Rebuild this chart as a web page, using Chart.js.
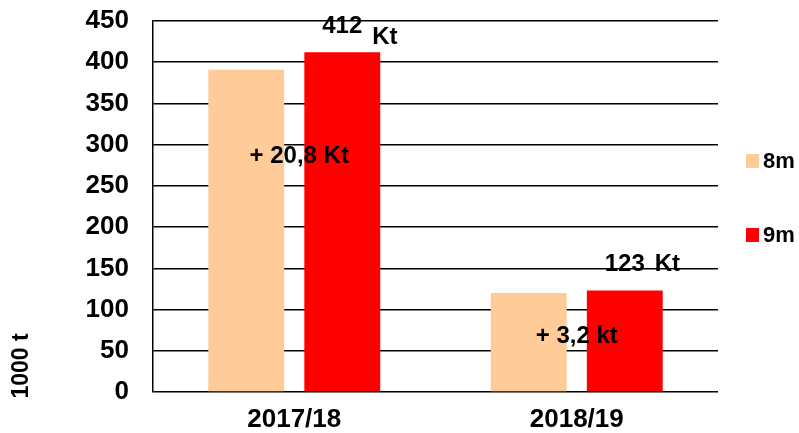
<!DOCTYPE html>
<html>
<head>
<meta charset="utf-8">
<script src="https://cdn.jsdelivr.net/npm/chart.js@4/dist/chart.umd.min.js"></script>
<style>
    html, body { margin: 0; padding: 0; background: #fff; }
    #wrap { width: 799px; height: 433px; }
</style>
</head>
<body>
<div id="wrap"><canvas id="chart" width="799" height="433"></canvas></div>
<script>
// Chart data
const categories = ['2017/18', '2018/19'];
const series8m = [391, 120];
const series9m = [412, 123];
const seriesNames = ['8m', '9m'];
const seriesColors = ['#FFCC99', '#FF0000'];
const totalLabels = ['412', '123'];
const totalUnit = 'Kt';
const deltaLabels = ['+ 20,8 Kt', '+ 3,2 kt'];
const deltaAnchors = [286, 68];
const yTicks = [0, 50, 100, 150, 200, 250, 300, 350, 400, 450];

const FONT = "'Liberation Sans', Arial, sans-serif";

// Draws value labels, deltas, legend and axis title
const annotations = {
    id: 'annotations',
    afterDatasetsDraw(chart) {
        const ctx = chart.ctx;
        const y = chart.scales.y;
        const x = chart.scales.x;
        const area = chart.chartArea;
        const meta9 = chart.getDatasetMeta(1);

        ctx.save();
        ctx.fillStyle = '#000';
        ctx.textBaseline = 'middle';

        // totals above the 9m bars
        ctx.font = 'bold 24px ' + FONT;
        meta9.data.forEach((bar, i) => {
            ctx.textAlign = 'center';
            ctx.fillText(totalLabels[i], bar.x, bar.y - 26);
            ctx.textAlign = 'left';
            ctx.fillText(totalUnit, bar.x + 30, bar.y - (i === 0 ? 15 : 26));
        });

        // differences between 8m and 9m
        ctx.textAlign = 'center';
        deltaLabels.forEach((txt, i) => {
            ctx.fillText(txt, x.getPixelForValue(i) + (i === 0 ? 5 : 0), y.getPixelForValue(deltaAnchors[i]));
        });

        // legend
        const legendY = [161, 235];
        ctx.font = 'bold 22px ' + FONT;
        ctx.textAlign = 'left';
        seriesNames.forEach((name, i) => {
            ctx.fillStyle = seriesColors[i];
            ctx.fillRect(area.right + 28, legendY[i] - 7, 13, 14);
            ctx.fillStyle = '#000';
            ctx.fillText(name, area.right + 45, legendY[i] + 1);
        });

        // y axis title
        ctx.font = 'bold 23px ' + FONT;
        ctx.translate(22, 366);
        ctx.rotate(-Math.PI / 2);
        ctx.textAlign = 'center';
        ctx.fillText('1000 t', 0, 0);
        ctx.restore();
    }
};

new Chart(document.getElementById('chart'), {
    type: 'bar',
    data: {
        labels: categories,
        datasets: [
            {
                label: seriesNames[0],
                data: series8m,
                backgroundColor: seriesColors[0],
                barPercentage: 0.79,
                categoryPercentage: 0.68
            },
            {
                label: seriesNames[1],
                data: series9m,
                backgroundColor: seriesColors[1],
                barPercentage: 0.79,
                categoryPercentage: 0.68
            }
        ]
    },
    options: {
        responsive: false,
        animation: false,
        layout: {
            padding: { top: 21, right: 81, left: 0, bottom: 0 }
        },
        plugins: {
            legend: { display: false },
            tooltip: { enabled: false }
        },
        scales: {
            x: {
                grid: { display: false },
                border: { display: false },
                ticks: {
                    color: '#000',
                    padding: 4,
                    font: { family: FONT, size: 26, weight: 'bold' }
                },
                afterFit(scale) {
                    scale.height = 41;
                    scale.paddingLeft = 0;
                    scale.paddingRight = 0;
                }
            },
            y: {
                min: 0,
                max: 450,
                afterBuildTicks(scale) {
                    scale.ticks = yTicks.map(v => ({ value: v }));
                },
                grid: {
                    color: '#000',
                    lineWidth: 1.5,
                    drawTicks: false
                },
                border: { display: true, color: '#000', width: 1.5 },
                ticks: {
                    color: '#000',
                    padding: 24,
                    font: { family: FONT, size: 26, weight: 'bold' }
                },
                afterFit(scale) {
                    scale.width = 153;
                    scale.paddingTop = 0;
                    scale.paddingBottom = 0;
                }
            }
        }
    },
    plugins: [annotations]
});
</script>
</body>
</html>
